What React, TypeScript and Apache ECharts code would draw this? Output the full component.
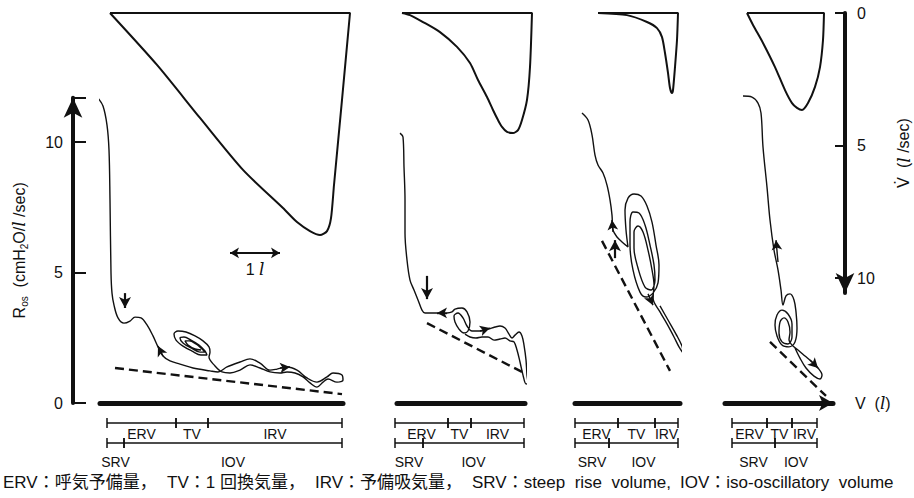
import React, { useEffect, useRef } from "react";
import * as echarts from "echarts";

type Pt = [number, number];
type Seg = { from: number; to: number; row: number; label: string };

// ---------- Panel 1 ----------
const flow1: Pt[] = [[0.2,0],[1.14,1.96],[2.0,3.96],[2.86,5.92],[3.66,7.36],[3.94,7.89],[4.2,8.23],[4.4,8.38],[4.54,8.23],[4.62,7.74],[4.68,6.49],[4.84,3.28],[5.0,0],[0.2,0]];
const ros1: Pt[] = [
  [-0.04,11.68],[0.06,11.38],[0.14,10.65],[0.18,9.69],[0.2,7.78],[0.22,4.98],[0.24,4.21],[0.28,3.75],[0.36,3.26],[0.48,3.06],
  [0.6,3.14],[0.7,3.29],[0.82,3.26],[0.94,2.99],[1.06,2.57],[1.16,2.15],[1.26,1.8],[1.4,1.61],[1.6,1.49],[1.86,1.34],
  [2.2,1.23],[2.36,1.19],[2.54,1.38],[2.8,1.57],[3.0,1.69],[3.2,1.53],[3.4,1.26],[3.54,1.3],[3.74,1.38],[3.94,1.26],
  [4.14,0.96],[4.34,0.8],[4.54,1.0],[4.66,1.15],[4.84,1.07],[4.86,0.88],[4.74,0.8],[4.56,0.92],[4.46,0.8],[4.34,0.61],
  [4.2,0.77],[4.06,1.0],[3.9,1.15],[3.74,1.19],[3.6,1.15],[3.4,1.19],[3.2,1.34],[3.0,1.46],[2.8,1.26],[2.6,1.15],
  [2.44,1.19],[2.3,1.42],[2.18,1.76],[2.2,1.95],[2.18,2.15],[2.06,2.38],[1.9,2.57],[1.72,2.72],[1.56,2.76],[1.48,2.64],
  [1.52,2.41],[1.66,2.18],[1.84,1.99],[2.02,1.84],[2.14,1.84],[2.1,1.99],[1.98,2.22],[1.82,2.41],[1.68,2.53],[1.6,2.49],
  [1.66,2.3],[1.82,2.11],[2.0,1.95],[2.1,1.95],[2.04,2.07],[1.92,2.26],[1.78,2.38],[1.7,2.38],[1.76,2.22],[1.9,2.07],[2.02,2.03]
];
const dash1: Pt[] = [[0.3,1.34],[4.84,0.34]];
const marker1: Pt[] = [[0.5,4.21],[0.5,3.64]];
const dirs1: Pt[][] = [[[1.26,1.8],[1.16,2.18]], [[3.6,1.34],[3.8,1.38]]];
const scaleBar1: Pt[] = [[2.6,5.75],[3.6,5.75]];
const brackets1: Seg[] = [
  { from: 0.14, to: 1.52, row: 0, label: "ERV" }, { from: 1.52, to: 2.16, row: 0, label: "TV" }, { from: 2.16, to: 4.84, row: 0, label: "IRV" },
  { from: 0.14, to: 0.48, row: 1, label: "SRV" }, { from: 0.48, to: 4.84, row: 1, label: "IOV" },
];

// ---------- Panel 2 ----------
const flow2: Pt[] = [[0.1,0],[0.26,0.08],[0.52,0.34],[0.86,0.72],[1.2,1.28],[1.46,1.89],[1.62,2.53],[1.8,3.17],[1.92,3.66],[2.02,4.04],[2.1,4.3],[2.2,4.49],[2.32,4.53],[2.42,4.42],[2.5,4.04],[2.6,3.28],[2.66,2.04],[2.7,0],[0.1,0]];
const ros2: Pt[] = [
  [0.06,10.34],[0.12,10.19],[0.14,9.04],[0.16,7.78],[0.16,6.51],[0.2,5.48],[0.26,4.71],[0.34,4.33],[0.42,3.95],[0.5,3.56],
  [0.56,3.45],[0.7,3.45],[0.86,3.45],[1.0,3.45],[1.1,3.49],[1.16,3.6],[1.3,3.64],[1.4,3.49],[1.46,3.1],[1.42,2.76],
  [1.34,2.68],[1.24,2.83],[1.16,3.1],[1.14,3.33],[1.22,3.45],[1.32,3.26],[1.4,2.95],[1.5,2.76],[1.66,2.76],[1.82,2.83],
  [1.96,2.91],[2.06,2.95],[2.16,2.87],[2.24,2.64],[2.3,2.49],[2.36,2.6],[2.44,2.72],[2.5,2.57],[2.54,2.22],[2.58,1.65],
  [2.6,1.07],[2.62,0.77],[2.58,0.73],[2.52,1.07],[2.46,1.57],[2.4,2.03],[2.34,2.34],[2.26,2.38],[2.16,2.49],[2.06,2.45],
  [1.94,2.41],[1.82,2.53],[1.7,2.53],[1.58,2.49],[1.46,2.53],[1.36,2.64]
];
const dash2: Pt[] = [[0.6,3.06],[2.5,1.19]];
const marker2: Pt[] = [[0.6,4.87],[0.6,3.98]];
const dirs2: Pt[][] = [[[1.0,3.45],[0.8,3.45]], [[1.66,2.76],[1.86,2.87]]];
const brackets2: Seg[] = [
  { from: -0.04, to: 1.02, row: 0, label: "ERV" }, { from: 1.02, to: 1.48, row: 0, label: "TV" }, { from: 1.48, to: 2.54, row: 0, label: "IRV" },
  { from: -0.04, to: 0.52, row: 1, label: "SRV" }, { from: 0.52, to: 2.54, row: 1, label: "IOV" },
];

// ---------- Panel 3 ----------
const flow3: Pt[] = [[0.46,0],[1.04,0.08],[1.44,0.34],[1.64,0.57],[1.74,0.91],[1.8,1.51],[1.86,2.26],[1.9,2.83],[1.94,3.02],[1.96,2.91],[2.0,2.04],[2.04,1.02],[2.06,0],[0.46,0]];
const ros3: Pt[] = [
  [0.14,11.11],[0.26,10.84],[0.34,10.27],[0.4,9.5],[0.46,9.12],[0.56,8.81],[0.64,8.35],[0.7,7.78],[0.74,7.2],[0.76,6.63],
  [0.84,6.36],[0.94,6.17],[1.06,5.98],[1.02,6.63],[1.0,7.39],[1.06,7.85],[1.18,8.01],[1.32,7.93],[1.44,7.55],[1.54,6.93],
  [1.62,6.05],[1.68,5.29],[1.66,4.6],[1.56,4.21],[1.42,4.06],[1.3,4.25],[1.16,5.1],[1.1,6.05],[1.1,6.93],[1.16,7.32],
  [1.28,7.28],[1.4,6.82],[1.5,6.05],[1.58,5.29],[1.6,4.71],[1.52,4.33],[1.4,4.44],[1.26,5.17],[1.18,5.94],[1.18,6.55],
  [1.26,6.78],[1.36,6.55],[1.46,5.86],[1.54,5.1],[1.58,4.52],[1.56,4.02],[1.7,3.49],[1.84,3.03],[1.98,2.53],[2.08,2.15],
  [2.16,1.92],[2.14,2.18],[2.02,2.64],[1.86,3.18],[1.7,3.72]
];
const dash3: Pt[] = [[0.54,6.21],[1.9,1.23]];
const marker3: Pt[] = [[0.8,5.55],[0.8,6.24]];
const dirs3: Pt[][] = [[[0.76,6.55],[0.74,7.01]], [[1.46,4.18],[1.56,3.75]]];
const brackets3: Seg[] = [
  { from: 0, to: 0.86, row: 0, label: "ERV" }, { from: 0.86, to: 1.6, row: 0, label: "TV" }, { from: 1.6, to: 2.06, row: 0, label: "IRV" },
  { from: 0, to: 0.68, row: 1, label: "SRV" }, { from: 0.68, to: 2.06, row: 1, label: "IOV" },
];

// ---------- Panel 4 ----------
const flow4: Pt[] = [[0.44,0],[0.56,0.45],[0.76,1.13],[1.0,2.04],[1.2,2.91],[1.34,3.4],[1.44,3.58],[1.54,3.66],[1.66,3.4],[1.8,2.79],[1.9,2.04],[1.96,1.02],[1.98,0],[0.44,0]];
const ros4: Pt[] = [
  [0.36,11.76],[0.54,11.72],[0.66,11.49],[0.72,11.11],[0.76,9.81],[0.84,8.27],[0.9,7.01],[0.98,5.86],[1.06,5.1],[1.12,4.33],
  [1.16,3.75],[1.22,4.1],[1.3,4.18],[1.38,3.95],[1.42,3.49],[1.44,2.87],[1.4,2.34],[1.28,2.15],[1.14,2.22],[1.04,2.57],
  [1.0,2.99],[1.04,3.37],[1.14,3.56],[1.26,3.41],[1.34,3.03],[1.34,2.53],[1.26,2.26],[1.14,2.34],[1.08,2.68],[1.1,3.1],
  [1.18,3.26],[1.26,3.1],[1.3,2.72],[1.28,2.41],[1.34,2.22],[1.46,2.03],[1.6,1.8],[1.74,1.57],[1.86,1.34],[1.94,1.07],
  [1.9,0.92],[1.78,1.03],[1.62,1.34],[1.5,1.72],[1.4,2.11]
];
const dash4: Pt[] = [[0.9,2.34],[2.02,0.27]];
const dirs4: Pt[][] = [[[1.06,5.4],[1.02,6.24]], [[1.7,1.65],[1.86,1.34]]];
const brackets4: Seg[] = [
  { from: 0.14, to: 0.84, row: 0, label: "ERV" }, { from: 0.84, to: 1.34, row: 0, label: "TV" }, { from: 1.34, to: 1.84, row: 0, label: "IRV" },
  { from: 0.14, to: 1.0, row: 1, label: "SRV" }, { from: 1.0, to: 1.84, row: 1, label: "IOV" },
];

// axis ranges
const rosTicks = [0, 5, 10];
const rosMax = 11.7;
const flowMax = 10.57;
const volMaxRos = [4.86, 2.56, 2.1, 2.16];
const volMaxFlow = [5.0, 3.0, 2.4, 2.4];

const footerParts = [
  "ERV：呼気予備量，",
  "TV：1 回換気量，",
  "IRV：予備吸気量，",
  "SRV：steep  rise  volume,",
  "IOV：iso-oscillatory  volume",
];

// ---------- layout (pixels, not data) ----------
const PX_PER_L = 50;
const panelLeft = [100, 397, 575, 725];
const ROS_BOTTOM = 403;
const ROS_PX = 26.1;
const FLOW_TOP = 13;
const FLOW_PX = 26.5;
const BR_TOP = 413;
const footerX = [3, 167, 315, 472, 680];

const INK = "#111";
const FONT = '"Liberation Sans", Arial, sans-serif';
const ITAL = '"DejaVu Serif", serif';

const panels = [
  { flow: flow1, ros: ros1, dash: dash1, marker: marker1 as Pt[] | null, dirs: dirs1, br: brackets1 },
  { flow: flow2, ros: ros2, dash: dash2, marker: marker2 as Pt[] | null, dirs: dirs2, br: brackets2 },
  { flow: flow3, ros: ros3, dash: dash3, marker: marker3 as Pt[] | null, dirs: dirs3, br: brackets3 },
  { flow: flow4, ros: ros4, dash: dash4, marker: null as Pt[] | null, dirs: dirs4, br: brackets4 },
];

function buildOption() {
  const grid: any[] = [];
  const xAxis: any[] = [];
  const yAxis: any[] = [];
  const series: any[] = [];
  const rosH = rosMax * ROS_PX;
  const flowH = flowMax * FLOW_PX;

  // Ros grids 0..3
  panels.forEach((_, i) => {
    grid.push({ left: panelLeft[i], top: ROS_BOTTOM - rosH, width: volMaxRos[i] * PX_PER_L, height: rosH });
    xAxis.push({
      gridIndex: i, type: "value", min: 0, max: volMaxRos[i],
      axisLine: { show: true, onZero: false, lineStyle: { color: INK, width: 5 }, symbol: i === 3 ? ["none", "arrow"] : "none", symbolSize: [12, 14] },
      axisTick: { show: false }, axisLabel: { show: false }, splitLine: { show: false },
      name: i === 3 ? "{t|V  (}{i|l}{t|)}" : "", nameLocation: "end", nameGap: 22,
      nameTextStyle: { color: INK, rich: { t: { fontSize: 16, fontFamily: FONT, color: INK }, i: { fontSize: 17, fontStyle: "italic", fontFamily: ITAL, color: INK } } },
    });
    yAxis.push({
      gridIndex: i, type: "value", min: 0, max: rosMax, interval: 5, show: i === 0, offset: 27,
      axisLine: { show: true, onZero: false, lineStyle: { color: INK, width: 4 }, symbol: ["none", "arrow"], symbolSize: [14, 20] },
      axisTick: { show: true, inside: true, length: 13, lineStyle: { color: INK, width: 2 } },
      axisLabel: { color: INK, fontSize: 16, fontFamily: FONT, margin: 10, formatter: (v: number) => (rosTicks.includes(v) ? String(v) : "") },
      splitLine: { show: false },
      name: "{t|R}{s|os}{t|  (cmH}{s|2}{t|O/}{i|l}{t| /sec)}", nameLocation: "middle", nameRotate: 90, nameGap: 44,
      nameTextStyle: {
        color: INK,
        rich: {
          t: { fontSize: 16, fontFamily: FONT, color: INK, lineHeight: 20, verticalAlign: "middle" },
          s: { fontSize: 10, fontFamily: FONT, color: INK, lineHeight: 12, verticalAlign: "bottom" },
          i: { fontSize: 17, fontStyle: "italic", fontFamily: ITAL, color: INK, lineHeight: 20, verticalAlign: "middle" },
        },
      },
    });
  });
  // Flow grids 4..7
  panels.forEach((_, i) => {
    grid.push({ left: panelLeft[i], top: FLOW_TOP, width: volMaxFlow[i] * PX_PER_L, height: flowH });
    xAxis.push({ gridIndex: 4 + i, type: "value", min: 0, max: volMaxFlow[i], show: false });
    yAxis.push({
      gridIndex: 4 + i, type: "value", min: 0, max: flowMax, interval: 5, inverse: true, show: i === 3, position: "right",
      axisLine: { show: true, onZero: false, lineStyle: { color: INK, width: 4 }, symbol: ["arrow", "none"], symbolSize: [14, 20] },
      axisTick: { show: true, inside: true, length: 10, lineStyle: { color: INK, width: 2 } },
      axisLabel: { color: INK, fontSize: 16, fontFamily: FONT, margin: 12 },
      splitLine: { show: false },
      name: "{v|V̇}{t|  (}{i|l}{t| /sec)}", nameLocation: "middle", nameRotate: 90, nameGap: 50,
      nameTextStyle: {
        color: INK,
        rich: {
          v: { fontSize: 16, fontFamily: '"DejaVu Sans", sans-serif', color: INK },
          t: { fontSize: 16, fontFamily: FONT, color: INK },
          i: { fontSize: 17, fontStyle: "italic", fontFamily: ITAL, color: INK },
        },
      },
    });
  });
  // Bracket grids 8..11
  panels.forEach((_, i) => {
    grid.push({ left: panelLeft[i], top: BR_TOP, width: volMaxFlow[i] * PX_PER_L, height: 40 });
    xAxis.push({ gridIndex: 8 + i, type: "value", min: 0, max: volMaxFlow[i], show: false });
    yAxis.push({ gridIndex: 8 + i, type: "value", min: -0.5, max: 1.5, inverse: true, show: false });
  });

  panels.forEach((p, i) => {
    series.push({
      type: "line", xAxisIndex: 4 + i, yAxisIndex: 4 + i, data: p.flow, symbol: "none", smooth: 0.25, clip: false,
      lineStyle: { color: INK, width: 2 }, silent: true,
    });
    const ml: any[] = [];
    if (p.marker) {
      ml.push([{ coord: p.marker[0], lineStyle: { width: 2.2, color: INK, type: "solid" } }, { coord: p.marker[1], symbolSize: [9, 11] }]);
    }
    p.dirs.forEach((d) => ml.push([{ coord: d[0] }, { coord: d[1] }]));
    if (i === 0) {
      ml.push([
        { coord: scaleBar1[0], symbol: "arrow", symbolSize: [8, 9], lineStyle: { width: 2, color: INK, type: "solid" },
          label: { show: true, position: "insideMiddleBottom", distance: 8, formatter: "{a|1 }{b|l}",
            rich: { a: { fontSize: 16, fontFamily: FONT, color: INK }, b: { fontSize: 17, fontStyle: "italic", fontFamily: ITAL, color: INK } } } },
        { coord: scaleBar1[1], symbol: "arrow", symbolSize: [8, 9] },
      ]);
    }
    series.push({
      type: "line", xAxisIndex: i, yAxisIndex: i, data: p.ros, symbol: "none", smooth: 0.35, clip: false,
      lineStyle: { color: INK, width: 1.4 }, silent: true,
      markLine: {
        silent: true, symbol: ["none", "arrow"], symbolSize: [8, 10], animation: false,
        label: { show: false }, lineStyle: { color: INK, type: "solid", width: 1.4 },
        data: ml,
      },
    });
    series.push({
      type: "line", xAxisIndex: i, yAxisIndex: i, data: p.dash, symbol: "none", clip: false, silent: true,
      lineStyle: { color: INK, width: 2.4, type: [9, 5] },
    });
    const br = p.br;
    series.push({
      type: "custom", xAxisIndex: 8 + i, yAxisIndex: 8 + i, silent: true, clip: false,
      data: br.map((s) => [s.from, s.to, s.row]),
      renderItem: (params: any, api: any) => {
        const s = br[params.dataIndex];
        const a = api.coord([api.value(0), api.value(2)]);
        const b = api.coord([api.value(1), api.value(2)]);
        const ls = { stroke: INK, lineWidth: 1.5 };
        return {
          type: "group",
          children: [
            { type: "line", shape: { x1: a[0], y1: a[1], x2: b[0], y2: b[1] }, style: ls },
            { type: "line", shape: { x1: a[0], y1: a[1] - 5, x2: a[0], y2: a[1] + 5 }, style: ls },
            { type: "line", shape: { x1: b[0], y1: b[1] - 5, x2: b[0], y2: b[1] + 5 }, style: ls },
            {
              type: "text", x: (a[0] + b[0]) / 2, y: a[1] + (s.row === 0 ? 11 : 19),
              style: { text: s.label, fill: INK, font: `14px ${FONT}`, align: "center", verticalAlign: "middle" },
            },
          ],
        };
      },
    });
  });

  return {
    animation: false,
    backgroundColor: "#fff",
    grid, xAxis, yAxis, series,
    graphic: footerParts.map((t, k) => ({
      type: "text", left: footerX[k], top: 474,
      style: { text: t, fill: INK, font: '17px "Liberation Sans", "Noto Sans CJK JP", sans-serif' },
    })),
  };
}

export default function App() {
  const ref = useRef<HTMLDivElement>(null);
  useEffect(() => {
    if (!ref.current) return;
    const chart = echarts.init(ref.current, undefined, { renderer: "svg" });
    chart.setOption(buildOption() as any);
    return () => chart.dispose();
  }, []);
  return <div ref={ref} style={{ width: 914, height: 498, position: "absolute", left: 0, top: 0 }} />;
}
